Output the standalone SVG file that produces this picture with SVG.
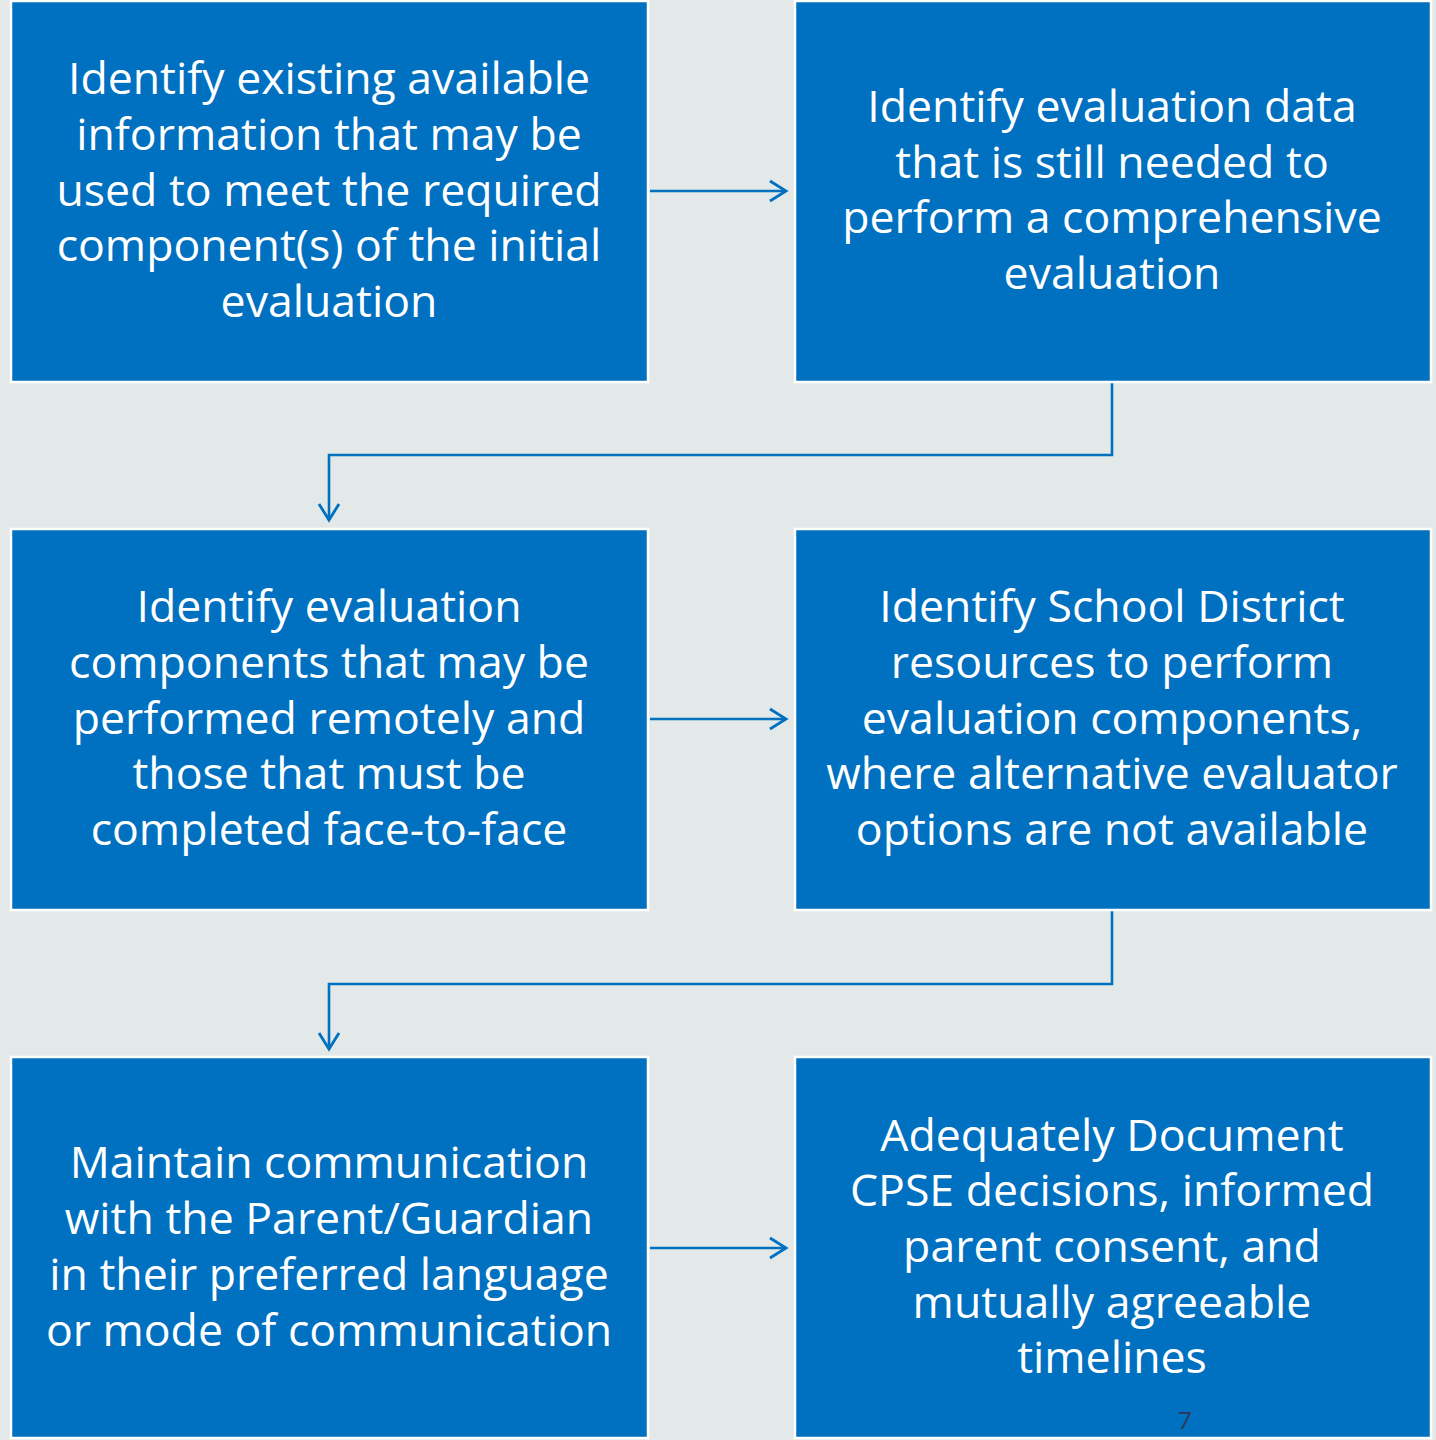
<svg xmlns="http://www.w3.org/2000/svg" width="1436" height="1440" viewBox="0 0 1436 1440">
<style>
.box{fill:#0070C0;stroke:#FFFFFF;stroke-width:2.5}
.t{font-family:"Open Sans",Lato,"Liberation Sans",sans-serif;font-size:44.6px;fill:#FFFFFF;text-anchor:middle;font-variant-ligatures:none}
.c{fill:none;stroke:#0070C0;stroke-width:2.6}
</style>
<defs>
<marker id="ah" viewBox="0 0 24 24" refX="21" refY="12" markerWidth="24" markerHeight="24" markerUnits="userSpaceOnUse" orient="auto">
<path d="M5,2 L21,12 L5,22" fill="none" stroke="#0070C0" stroke-width="2.8"/>
</marker>
</defs>
<rect width="1436" height="1440" fill="#E3E9E9"/>
<g id="connectors">
<line class="c" x1="650" y1="191" x2="786" y2="191" marker-end="url(#ah)"/>
<polyline class="c" points="1112,383 1112,455 329,455 329,520" marker-end="url(#ah)"/>
<line class="c" x1="650" y1="719" x2="786" y2="719" marker-end="url(#ah)"/>
<polyline class="c" points="1112,911 1112,984 329,984 329,1049" marker-end="url(#ah)"/>
<line class="c" x1="650" y1="1248" x2="786" y2="1248" marker-end="url(#ah)"/>
</g>
<g id="n1">
<rect class="box" x="11" y="1" width="637" height="381"/>
<text class="t"><tspan x="329" y="94">Identify existing available</tspan><tspan x="329" y="150">information that may be</tspan><tspan x="329" y="206">used to meet the required</tspan><tspan x="329" y="261">component(s) of the initial</tspan><tspan x="329" y="317">evaluation</tspan></text>
</g>
<g id="n2">
<rect class="box" x="795" y="1" width="636" height="381"/>
<text class="t"><tspan x="1112" y="122">Identify evaluation data</tspan><tspan x="1112" y="178">that is still needed to</tspan><tspan x="1112" y="233">perform a comprehensive</tspan><tspan x="1112" y="289">evaluation</tspan></text>
</g>
<g id="n3">
<rect class="box" x="11" y="529" width="637" height="381"/>
<text class="t"><tspan x="329" y="622">Identify evaluation</tspan><tspan x="329" y="678">components that may be</tspan><tspan x="329" y="734">performed remotely and</tspan><tspan x="329" y="789">those that must be</tspan><tspan x="329" y="845">completed face-to-face</tspan></text>
</g>
<g id="n4">
<rect class="box" x="795" y="529" width="636" height="381"/>
<text class="t"><tspan x="1112" y="622">Identify School District</tspan><tspan x="1112" y="678">resources to perform</tspan><tspan x="1112" y="734">evaluation components,</tspan><tspan x="1112" y="789">where alternative evaluator</tspan><tspan x="1112" y="845">options are not available</tspan></text>
</g>
<g id="n5">
<rect class="box" x="11" y="1057" width="637" height="381"/>
<text class="t"><tspan x="329" y="1178">Maintain communication</tspan><tspan x="329" y="1234">with the Parent/Guardian</tspan><tspan x="329" y="1290">in their preferred language</tspan><tspan x="329" y="1346">or mode of communication</tspan></text>
</g>
<g id="n6">
<rect class="box" x="795" y="1057" width="636" height="381"/>
<text class="t"><tspan x="1112" y="1151">Adequately Document</tspan><tspan x="1112" y="1206">CPSE decisions, informed</tspan><tspan x="1112" y="1262">parent consent, and</tspan><tspan x="1112" y="1318">mutually agreeable</tspan><tspan x="1112" y="1373">timelines</tspan></text>
<text x="1185" y="1429" font-family="Lato,'Liberation Sans',sans-serif" font-size="24" fill="#2E3A5C" text-anchor="middle">7</text>
</g>
</svg>
